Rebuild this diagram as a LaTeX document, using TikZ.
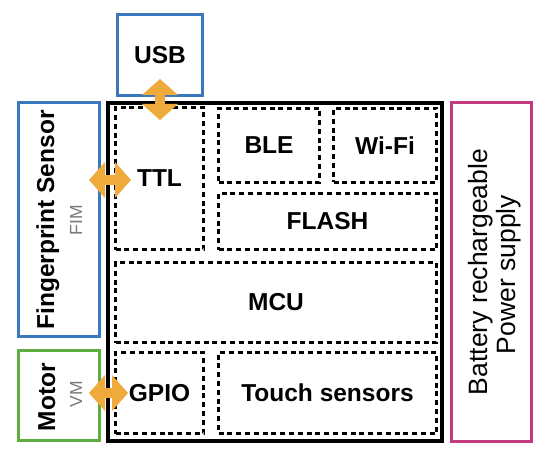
\documentclass[tikz,border=0pt]{standalone}
\usepackage{fontspec}
\setmainfont{Liberation Sans}
\usetikzlibrary{arrows.meta}
\definecolor{cblue}{HTML}{3B79BF}
\definecolor{cgreen}{HTML}{5DAE3E}
\definecolor{cmag}{HTML}{C13B7D}
\definecolor{corange}{HTML}{F0AA3C}
\definecolor{cgray}{HTML}{7A7A7A}
\begin{document}
\begin{tikzpicture}[x=1pt,y=-1pt,
  cbox/.style={draw=#1, line width=3.5pt, inner sep=0pt},
  mainbox/.style={draw=black, line width=4pt, inner sep=0pt},
  dbox/.style={draw=black, line width=2.1pt, dash pattern=on 5pt off 3.8pt, inner sep=0pt,
    font=\bfseries\fontsize{24.5}{28}\selectfont},
  bigtxt/.style={inner sep=0pt, font=\bfseries\fontsize{24.5}{28}\selectfont},
  rottxt/.style={inner sep=0pt, rotate=90, anchor=base},
  subtxt/.style={rottxt, text=cgray, font=\fontsize{17.5}{20}\selectfont},
  battxt/.style={rottxt, font=\fontsize{26.5}{30}\selectfont},
  tipx/.tip={Triangle[length=16pt,width=36pt,line width=0pt]},
  dblarrow/.style={draw=corange, line width=10pt, tipx-tipx}
]
\fill[white] (0,0) rectangle (550,460);
\useasboundingbox (0,0) rectangle (550,460);

% outer boxes
\node[cbox=cblue, minimum width=85pt, minimum height=81pt, bigtxt] (usb) at (160,55) {USB};
\node[mainbox, minimum width=334pt, minimum height=338pt] (main) at (275,272) {};
\node[cbox=cblue, minimum width=81pt, minimum height=234pt] (fp) at (59,219.5) {};
\node[cbox=cgreen, minimum width=81pt, minimum height=90pt] (motor) at (59,395.5) {};
\node[cbox=cmag, minimum width=80pt, minimum height=339pt] (batt) at (491.5,272) {};

% inner dashed boxes
\node[dbox, minimum width=88pt, minimum height=142pt] (ttl) at (159.5,178.5) {TTL};
\node[dbox, minimum width=101pt, minimum height=74pt] (ble) at (269,145.5) {BLE};
\node[dbox, minimum width=103pt, minimum height=74pt] (wifi) at (385,145.5) {Wi-Fi};
\node[dbox, minimum width=218pt, minimum height=56pt] (flash) at (327.5,221.5) {FLASH};
\node[dbox, minimum width=321pt, minimum height=80pt] (mcu) at (276,302.5) {MCU};
\node[dbox, minimum width=88pt, minimum height=81pt] (gpio) at (159.5,393) {GPIO};
\node[dbox, minimum width=218pt, minimum height=81pt] (touch) at (327.5,393) {Touch sensors};

% rotated labels
\node[rottxt, font=\bfseries\fontsize{24.5}{28}\selectfont] (fpt) at (54,220) {Fingerprint Sensor};
\node[subtxt] (fim) at (82,220) {FIM};
\node[rottxt, font=\bfseries\fontsize{24.5}{28}\selectfont] (mott) at (55,397) {Motor};
\node[subtxt] (vm) at (82,394.5) {VM};
\node[battxt] (bt1) at (487,272) {Battery rechargeable};
\node[battxt] (bt2) at (515,274.5) {Power supply};

% connector end points
\coordinate (a1) at (160,79);
\coordinate (a2) at (160,120);
\coordinate (b1) at (89,180);
\coordinate (b2) at (131,180);
\coordinate (c1) at (89,393);
\coordinate (c2) at (128,393);

\draw[dblarrow] (a1) -- (a2);
\draw[dblarrow] (b1) -- (b2);
\draw[dblarrow] (c1) -- (c2);
\end{tikzpicture}
\end{document}
